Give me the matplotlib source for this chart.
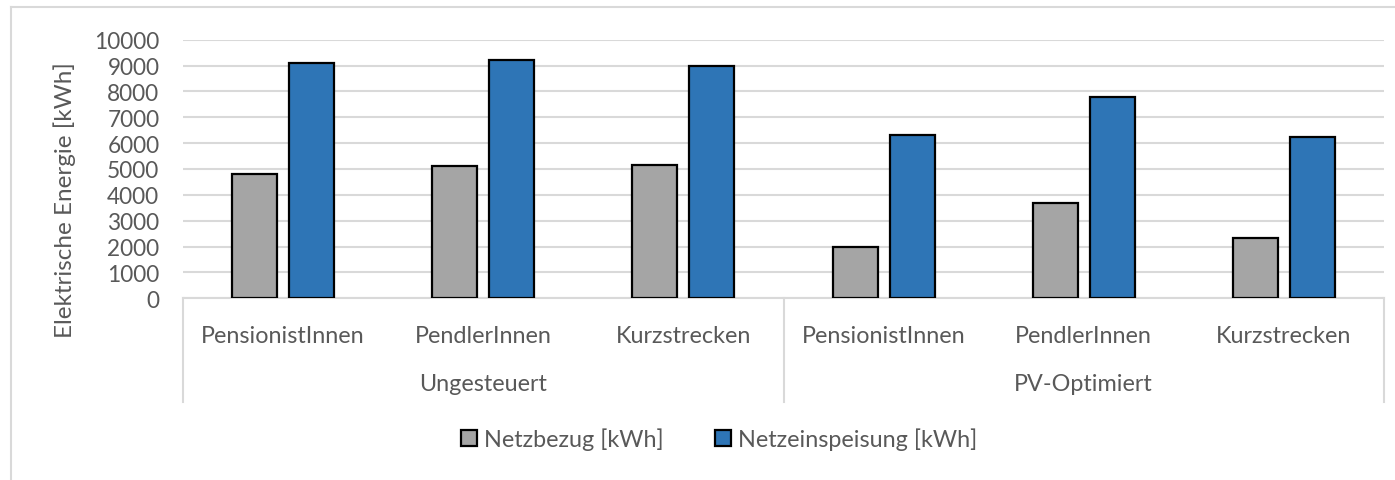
import numpy as np, matplotlib; matplotlib.use("Agg")
import matplotlib.pyplot as plt
from matplotlib.patches import Patch

plt.rcParams['font.family'] = ['Lato', 'DejaVu Sans']
txt = "#595959"

categories = ["PensionistInnen", "PendlerInnen", "Kurzstrecken",
              "PensionistInnen", "PendlerInnen", "Kurzstrecken"]
groups = ["Ungesteuert", "PV-Optimiert"]
netzbezug = [4800, 5100, 5150, 2000, 3700, 2350]
einspeisung = [9100, 9200, 9000, 6300, 7800, 6250]
series_names = ["Netzbezug [kWh]", "Netzeinspeisung [kWh]"]
colors = ["#a5a5a5", "#2e75b6"]

W, H = 1395, 481
fig = plt.figure(figsize=(W/100, H/100), dpi=100)
ax = fig.add_axes([183/W, 1-299.3/H, (1384-183)/W, (299.3-40.7)/H])

x = np.arange(len(categories))
w, off = 0.225, 0.1425
ax.bar(x-off, netzbezug, w, color=colors[0], edgecolor="black", linewidth=1.6, zorder=3)
ax.bar(x+off, einspeisung, w, color=colors[1], edgecolor="black", linewidth=1.6, zorder=3)

ax.set_xlim(-0.5, len(categories)-0.5)
ax.set_ylim(0, 10000)
ax.set_yticks(np.arange(0, 10001, 1000))
ax.yaxis.grid(True, color="#d9d9d9", linewidth=1.5, zorder=0)
ax.set_xticks([])
for s in ["top", "right", "left"]:
    ax.spines[s].set_visible(False)
ax.spines["bottom"].set_color("#d9d9d9")
ax.spines["bottom"].set_linewidth(1.5)
ax.tick_params(axis="y", length=0, pad=17, labelsize=16.3, labelcolor=txt)

# category axis: labels, group labels, separators
tr = ax.get_xaxis_transform()
for i, c in enumerate(categories):
    ax.text(i, -0.142, c, transform=tr, ha="center", va="center", fontsize=16.8, color=txt)
for g, gname in enumerate(groups):
    ax.text(g*3+1, -0.328, gname, transform=tr, ha="center", va="center", fontsize=16.8, color=txt)
for xs in [-0.5, 2.5, 5.5]:
    ax.plot([xs, xs], [0, -0.401], transform=tr, color="#d9d9d9", lw=1.5, clip_on=False)

fig.text(65/W, 1-200/H, "Elektrische Energie [kWh]", rotation=90, ha="center", va="center",
         fontsize=17.5, color=txt)

handles = [Patch(facecolor=c, edgecolor="black", linewidth=1.6) for c in colors]
fig.legend(handles, series_names, loc="center", bbox_to_anchor=(719/W, 1-440/H), ncol=2,
           frameon=False, fontsize=16.8, labelcolor=txt, handlelength=0.7, handleheight=0.7,
           handletextpad=0.3, columnspacing=2.2)

# outer chart border
fig.add_artist(plt.Line2D([11/W, 11/W], [0, 1-8/H], color="#d9d9d9", lw=1.5))
fig.add_artist(plt.Line2D([11/W, 1], [1-8/H, 1-8/H], color="#d9d9d9", lw=1.5))

fig.savefig("out.png", dpi=100)
